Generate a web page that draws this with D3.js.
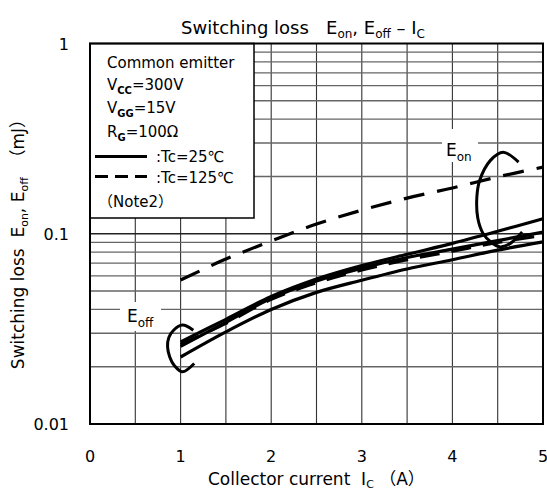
<!DOCTYPE html>
<html>
<head>
<meta charset="utf-8">
<script src="https://cdn.jsdelivr.net/npm/d3@7"></script>
<style>
  html, body { margin: 0; padding: 0; background: #fff; }
  svg { display: block; }
  text { font-family: "DejaVu Sans", "Noto Sans CJK JP", sans-serif; fill: #000; white-space: pre; }
</style>
</head>
<body>
<svg id="chart" width="547" height="491"></svg>
<script>
// ---- data ----
const currents = [1, 1.5, 2, 2.5, 3, 3.5, 4, 4.5, 5];
const eonTc125 = [0.0571, 0.0736, 0.0916, 0.1125, 0.133, 0.154, 0.174, 0.199, 0.224];
const eonTc25 = [0.027, 0.0355, 0.0468, 0.0578, 0.068, 0.078, 0.089, 0.103, 0.12];
const eoffTc25a = [0.0256, 0.0342, 0.0458, 0.0565, 0.066, 0.075, 0.083, 0.092, 0.102];
const eoffTc125 = [0.0262, 0.0338, 0.0452, 0.0552, 0.0645, 0.073, 0.081, 0.09, 0.098];
const eoffTc25b = [0.0225, 0.0305, 0.0400, 0.0492, 0.057, 0.0653, 0.073, 0.082, 0.0906];

const xTicks = [0, 1, 2, 3, 4, 5];
const xTickLabels = ["0", "1", "2", "3", "4", "5"];
const yTicks = [0.01, 0.1, 1];
const yTickLabels = ["0.01", "0.1", "1"];

// annotation brackets (in data units: A, mJ)
const eonBracketX = [4.73, 4.56, 4.42, 4.30, 4.27, 4.28, 4.34, 4.43, 4.53, 4.64, 4.77];
const eonBracketY = [0.238, 0.268, 0.243, 0.19, 0.156, 0.121, 0.100, 0.090, 0.0853, 0.089, 0.102];
const eoffBracketX = [1.14, 1.02, 0.92, 0.87, 0.856, 0.88, 0.93, 1.02, 1.15];
const eoffBracketY = [0.0311, 0.0331, 0.0310, 0.0285, 0.0255, 0.0225, 0.0203, 0.0188, 0.0208];

// ---- layout ----
const L = 90, T = 43.5, R = 543, B = 424;
const svg = d3.select("#chart");
const x = d3.scaleLinear().domain([0, 5]).range([L, R]);
const y = d3.scaleLog().domain([0.01, 1]).range([B, T]);

// grid
const g = svg.append("g");
const vGrid = d3.range(0.5, 5, 0.5);
g.selectAll(".vg").data(vGrid).join("line")
  .attr("x1", d => x(d)).attr("x2", d => x(d)).attr("y1", T).attr("y2", B)
  .attr("stroke", "#333").attr("stroke-width", 1.1);
const hGrid = [];
[0.01, 0.1].forEach(dec => { for (let k = 2; k <= 9; k++) hGrid.push(dec * k); });
hGrid.push(0.1);
g.selectAll(".hg").data(hGrid).join("line")
  .attr("x1", L).attr("x2", R).attr("y1", d => y(d)).attr("y2", d => y(d))
  .attr("stroke", d => Math.abs(d - 0.1) < 1e-9 ? "#222" : "#666").attr("stroke-width", 1.3);

// label background boxes
svg.append("rect").attr("x", 442).attr("y", 129).attr("width", 36).attr("height", 33).attr("fill", "#fff");
svg.append("rect").attr("x", 120).attr("y", 302).attr("width", 41).attr("height", 29).attr("fill", "#fff");

// curves
const line = d3.line().x(d => x(d[0])).y(d => y(d[1])).curve(d3.curveCatmullRom.alpha(0.5));
const series = [
  { v: eonTc125, dash: "21,13" },
  { v: eonTc25, dash: null },
  { v: eoffTc25a, dash: null },
  { v: eoffTc125, dash: "20,12" },
  { v: eoffTc25b, dash: null }
];
series.forEach(s => {
  svg.append("path")
    .attr("d", line(currents.map((c, i) => [c, s.v[i]])))
    .attr("fill", "none").attr("stroke", "#000").attr("stroke-width", 3.2)
    .attr("stroke-dasharray", s.dash);
});

// brackets
const bline = d3.line().x(d => x(d[0])).y(d => y(d[1])).curve(d3.curveCatmullRom);
svg.append("path").attr("d", bline(eonBracketX.map((v, i) => [v, eonBracketY[i]])))
  .attr("fill", "none").attr("stroke", "#000").attr("stroke-width", 3);
svg.append("path").attr("d", bline(eoffBracketX.map((v, i) => [v, eoffBracketY[i]])))
  .attr("fill", "none").attr("stroke", "#000").attr("stroke-width", 3);

// legend box
svg.append("rect").attr("x", L).attr("y", T).attr("width", 164).attr("height", 174.5)
  .attr("fill", "#fff").attr("stroke", "#000").attr("stroke-width", 1.5);

// frame
svg.append("rect").attr("x", L).attr("y", T).attr("width", R - L).attr("height", B - T)
  .attr("fill", "none").attr("stroke", "#000").attr("stroke-width", 2);

// legend content
const lg = svg.append("g").attr("font-size", 15);
lg.append("text").attr("x", 107).attr("y", 68).text("Common emitter");
function subLine(yy, main, sub, rest) {
  const t = lg.append("text").attr("x", 107).attr("y", yy);
  t.append("tspan").text(main);
  t.append("tspan").attr("font-size", 10).attr("font-weight", "bold").attr("dy", 4).text(sub);
  t.append("tspan").attr("dy", -4).text(rest);
}
subLine(90, "V", "CC", "=300V");
subLine(113, "V", "GG", "=15V");
subLine(137, "R", "G", "=100Ω");
lg.append("line").attr("x1", 95).attr("x2", 147).attr("y1", 156.5).attr("y2", 156.5)
  .attr("stroke", "#000").attr("stroke-width", 3);
lg.append("line").attr("x1", 95).attr("x2", 147).attr("y1", 176.5).attr("y2", 176.5)
  .attr("stroke", "#000").attr("stroke-width", 3).attr("stroke-dasharray", "13,7");
lg.append("text").attr("x", 156).attr("y", 162).text(":Tc=25℃");
lg.append("text").attr("x", 156).attr("y", 183).text(":Tc=125℃");
lg.append("text").attr("x", 98).attr("y", 207).text("（Note2）");

// curve labels
function subLabel(xx, yy, main, sub) {
  const t = svg.append("text").attr("x", xx).attr("y", yy).attr("font-size", 17);
  t.append("tspan").text(main);
  t.append("tspan").attr("font-size", 12).attr("dy", 5).text(sub);
}
subLabel(446, 156, "E", "on");
subLabel(127, 322, "E", "off");

// tick labels
svg.selectAll(".xt").data(xTicks).join("text")
  .attr("x", d => x(d)).attr("y", 462).attr("text-anchor", "middle").attr("font-size", 16)
  .text((d, i) => xTickLabels[i]);
svg.selectAll(".yt").data(yTicks).join("text")
  .attr("x", 69).attr("y", d => y(d)).attr("dy", "0.38em").attr("text-anchor", "end").attr("font-size", 16)
  .text((d, i) => yTickLabels[i]);

// title
const title = svg.append("text").attr("x", 181).attr("y", 34).attr("font-size", 18);
title.append("tspan").text("Switching loss   E");
title.append("tspan").attr("font-size", 12).attr("dy", 4).text("on");
title.append("tspan").attr("dy", -4).text(", E");
title.append("tspan").attr("font-size", 12).attr("dy", 4).text("off");
title.append("tspan").attr("dy", -4).text(" – I");
title.append("tspan").attr("font-size", 12).attr("dy", 4).text("C");

// x axis title
const xt = svg.append("text").attr("x", 208).attr("y", 485).attr("font-size", 17);
xt.append("tspan").text("Collector current  I");
xt.append("tspan").attr("font-size", 11).attr("dy", 3).text("C");
xt.append("tspan").attr("dy", -3).text(" （A）");

// y axis title
const yt = svg.append("text").attr("transform", "translate(24,240) rotate(-90)")
  .attr("text-anchor", "middle").attr("font-size", 17);
yt.append("tspan").text("Switching loss  E");
yt.append("tspan").attr("font-size", 11).attr("dy", 4).text("on");
yt.append("tspan").attr("dy", -4).text(", E");
yt.append("tspan").attr("font-size", 11).attr("dy", 4).text("off");
yt.append("tspan").attr("dy", -4).text("  （mJ）");
</script>
</body>
</html>
